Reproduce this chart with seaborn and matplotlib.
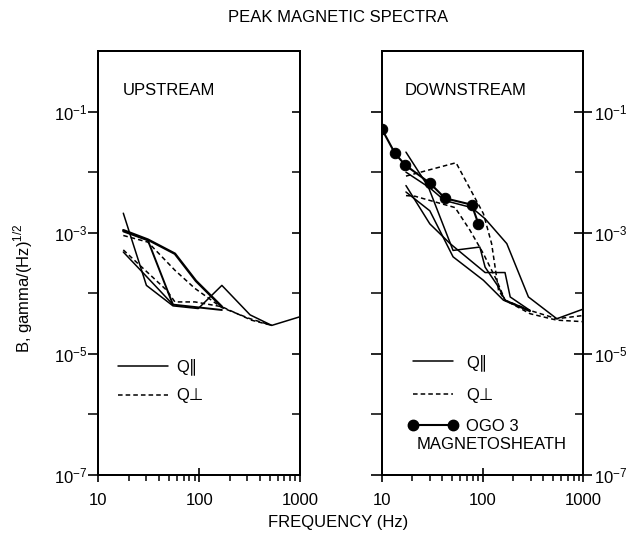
import matplotlib
matplotlib.use("Agg")
import matplotlib.pyplot as plt
from matplotlib.lines import Line2D
from matplotlib.ticker import FixedLocator, NullFormatter, FixedFormatter
import seaborn as sns

# ---------------- data ----------------
# Upstream panel
UP_A_F = [17.7, 30, 55, 98, 168, 320, 525, 1000]
UP_A_B = [2.1e-3, 1.35e-4, 6.2e-5, 5.6e-5, 1.35e-4, 4.4e-5, 2.95e-5, 4.1e-5]
UP_B_F = [17.7, 31, 57.5, 93, 168]
UP_B_B = [1.1e-3, 7.7e-4, 4.5e-4, 1.6e-4, 6.0e-5]
UP_C_F = [17.7, 31, 55, 168]
UP_C_B = [1.05e-3, 7.5e-4, 6.5e-5, 5.3e-5]
UP_F_F = [17.7, 30, 55]
UP_F_B = [4.8e-4, 1.9e-4, 6.5e-5]
UP_D_F = [17.7, 31, 57.5, 91, 168, 320, 525]
UP_D_B = [9.0e-4, 7.0e-4, 2.4e-4, 1.2e-4, 5.8e-5, 3.8e-5, 2.95e-5]
UP_E_F = [17.7, 47.7, 57.5, 91, 168, 330, 525]
UP_E_B = [5.2e-4, 1.12e-4, 7.2e-5, 7.2e-5, 6.0e-5, 3.6e-5, 2.95e-5]

# Downstream panel
DN_G_F = [17.4, 54.6, 102, 123, 144, 167, 296, 545, 1000]
DN_G_B = [8.6e-3, 1.43e-2, 2.06e-3, 6.6e-4, 1.12e-4, 7.7e-5, 5.2e-5, 3.8e-5, 4.3e-5]
DN_H_F = [17.4, 21.4, 53.4, 75, 102, 138, 167, 296, 545, 1000]
DN_H_B = [4.1e-3, 4.0e-3, 2.6e-3, 1.1e-3, 4.5e-4, 1.64e-4, 7.7e-5, 4.6e-5, 3.6e-5, 3.4e-5]
DN_K_F = [17.4, 30, 42, 78, 106, 174, 285, 545, 1000]
DN_K_B = [1.0e-2, 5.5e-3, 3.4e-3, 2.6e-3, 1.7e-3, 6.6e-4, 8.7e-5, 3.8e-5, 5.5e-5]
DN_I_F = [17.4, 29, 51, 94, 106, 144, 167, 296]
DN_I_B = [2.14e-2, 5.7e-3, 5.1e-4, 5.8e-4, 2.7e-4, 1.27e-4, 7.7e-5, 5.2e-5]
DN_J_F = [17.4, 30, 47.7, 106, 167, 188, 296]
DN_J_B = [6.0e-3, 1.4e-3, 6.6e-4, 2.2e-4, 2.2e-4, 8.7e-5, 5.2e-5]
DN_L_F = [17.4, 30, 51, 102, 161, 296]
DN_L_B = [4.7e-3, 2.3e-3, 4.0e-4, 1.64e-4, 7.7e-5, 5.0e-5]
OGO_F = [10, 13.5, 17, 30, 42.5, 78, 91]
OGO_B = [5.2e-2, 2.06e-2, 1.32e-2, 6.6e-3, 3.7e-3, 2.9e-3, 1.4e-3]

X_MAJOR = [10, 100, 1000]
X_MAJOR_LABELS = ["10", "100", "1000"]
X_MINOR = [20, 30, 40, 50, 60, 70, 80, 90, 200, 300, 400, 500, 600, 700, 800, 900]
Y_MAJOR = [1e-7, 1e-5, 1e-3, 1e-1]
Y_MAJOR_LABELS = [r"$\mathregular{10^{-7}}$", r"$\mathregular{10^{-5}}$",
                  r"$\mathregular{10^{-3}}$", r"$\mathregular{10^{-1}}$"]
Y_MINOR = [1e-6, 1e-4, 1e-2]

# ---------------- style ----------------
sns.set_theme(style="ticks")
plt.rcParams["font.family"] = ["Liberation Sans", "DejaVu Sans"]
plt.rcParams["mathtext.fontset"] = "custom"
plt.rcParams["mathtext.rm"] = "Liberation Sans"
plt.rcParams["axes.linewidth"] = 1.4
plt.rcParams["xtick.major.width"] = 1.2
plt.rcParams["ytick.major.width"] = 1.2
plt.rcParams["xtick.minor.width"] = 1.1
plt.rcParams["ytick.minor.width"] = 1.1
for key in ["text.color", "axes.labelcolor", "xtick.color", "ytick.color",
            "axes.edgecolor", "xtick.labelcolor", "ytick.labelcolor"]:
    plt.rcParams[key] = "black"

FS = 12
fig = plt.figure(figsize=(6.37, 5.35), dpi=100)
W, H = 637.0, 535.0
bottom = 1 - 475 / H
height = (475 - 51) / H
axL = fig.add_axes([98.3 / W, bottom, 201.7 / W, height])
axR = fig.add_axes([381.7 / W, bottom, 201.7 / W, height])

DASH = (3, 2)


def draw(ax, F, B, dashed=False, lw=1.1, **kw):
    sns.lineplot(x=F, y=B, ax=ax, color="black", lw=lw, estimator=None,
                 sort=False, legend=False, **kw)
    line = ax.lines[-1]
    if dashed:
        line.set_dashes(DASH)
    return line


def setup(ax):
    ax.set_xscale("log")
    ax.set_yscale("log")
    ax.set_xlim(10, 1000)
    ax.set_ylim(1e-7, 1)
    ax.xaxis.set_major_locator(FixedLocator(X_MAJOR))
    ax.xaxis.set_major_formatter(FixedFormatter(X_MAJOR_LABELS))
    ax.xaxis.set_minor_locator(FixedLocator(X_MINOR))
    ax.xaxis.set_minor_formatter(NullFormatter())
    ax.yaxis.set_major_locator(FixedLocator(Y_MAJOR))
    ax.yaxis.set_minor_locator(FixedLocator(Y_MINOR))
    ax.yaxis.set_minor_formatter(NullFormatter())
    ax.tick_params(axis="x", which="major", direction="inout", length=10,
                   labelsize=FS, pad=8, colors="black")
    ax.tick_params(axis="x", which="minor", direction="out", length=4,
                   colors="black")
    for s in ax.spines.values():
        s.set_color("black")
        s.set_visible(True)
    ax.set_facecolor("white")


# ---------------- upstream ----------------
setup(axL)
draw(axL, UP_A_F, UP_A_B)
draw(axL, UP_B_F, UP_B_B, lw=1.8)
draw(axL, UP_C_F, UP_C_B, lw=1.4)
draw(axL, UP_F_F, UP_F_B)
draw(axL, UP_D_F, UP_D_B, dashed=True)
draw(axL, UP_E_F, UP_E_B, dashed=True)
axL.yaxis.set_major_formatter(FixedFormatter(Y_MAJOR_LABELS))
axL.tick_params(axis="y", which="both", direction="out", length=7,
                labelsize=FS, pad=1, colors="black")
axL2 = axL.twinx()
axL2.set_yscale("log")
axL2.set_ylim(1e-7, 1)
axL2.yaxis.set_major_locator(FixedLocator(Y_MAJOR))
axL2.yaxis.set_minor_locator(FixedLocator(Y_MINOR))
axL2.yaxis.set_major_formatter(NullFormatter())
axL2.yaxis.set_minor_formatter(NullFormatter())
axL2.tick_params(axis="y", which="both", direction="in", length=6, colors="black")
axL2.grid(False)

axL.text(0.121, 0.908, "UPSTREAM", transform=axL.transAxes, fontsize=FS,
         ha="left", va="center")
hL = [Line2D([], [], color="black", lw=1.1),
      Line2D([], [], color="black", lw=1.1, dashes=DASH)]
legL = axL.legend(hL, ["Q\u2225", "Q\u22a5"], loc="upper left",
                  bbox_to_anchor=(0.096, 0.275), frameon=False, fontsize=FS,
                  handlelength=3.0, handletextpad=0.5, labelspacing=0.8,
                  borderpad=0, borderaxespad=0)
axL.set_ylabel(r"B, gamma/(Hz)$^{\mathregular{1/2}}$", fontsize=FS)
axL.yaxis.set_label_coords(-0.315, 0.44)

# ---------------- downstream ----------------
setup(axR)
draw(axR, DN_G_F, DN_G_B, dashed=True)
draw(axR, DN_H_F, DN_H_B, dashed=True)
draw(axR, DN_K_F, DN_K_B)
draw(axR, DN_I_F, DN_I_B)
draw(axR, DN_J_F, DN_J_B)
draw(axR, DN_L_F, DN_L_B)
draw(axR, OGO_F, OGO_B, lw=1.5, marker="o", markersize=7.5,
     markeredgecolor="black", markerfacecolor="black")
axR.yaxis.set_major_formatter(NullFormatter())
axR.tick_params(axis="y", which="both", direction="out", length=8,
                colors="black")
axR2 = axR.twinx()
axR2.set_yscale("log")
axR2.set_ylim(1e-7, 1)
axR2.yaxis.set_major_locator(FixedLocator(Y_MAJOR))
axR2.yaxis.set_minor_locator(FixedLocator(Y_MINOR))
axR2.yaxis.set_major_formatter(FixedFormatter(Y_MAJOR_LABELS))
axR2.yaxis.set_minor_formatter(NullFormatter())
axR2.tick_params(axis="y", which="major", direction="inout", length=13,
                 labelsize=FS, pad=1, colors="black")
axR2.tick_params(axis="y", which="minor", direction="in", length=6,
                 colors="black")
axR2.grid(False)

axR.text(0.116, 0.908, "DOWNSTREAM", transform=axR.transAxes, fontsize=FS,
         ha="left", va="center")
hR = [Line2D([], [], color="black", lw=1.1),
      Line2D([], [], color="black", lw=1.1, dashes=DASH),
      Line2D([], [], color="black", lw=1.5, marker="o", markersize=7.5)]
legR = axR.legend(hR, ["Q\u2225", "Q\u22a5", "OGO 3"], loc="upper left",
                  bbox_to_anchor=(0.13, 0.285), frameon=False, fontsize=FS,
                  handlelength=3.0, handletextpad=0.5, labelspacing=1.0,
                  borderpad=0, borderaxespad=0, numpoints=2)
axR.text(0.174, 0.072, "MAGNETOSHEATH", transform=axR.transAxes, fontsize=FS,
         ha="left", va="center")

fig.text(337.7 / W, 1 - 17 / H, "PEAK MAGNETIC SPECTRA", fontsize=12,
         ha="center", va="center")
fig.text(337.7 / W, 1 - 522 / H, "FREQUENCY (Hz)", fontsize=FS,
         ha="center", va="center")

fig.savefig("out.png", dpi=100, facecolor="white")
